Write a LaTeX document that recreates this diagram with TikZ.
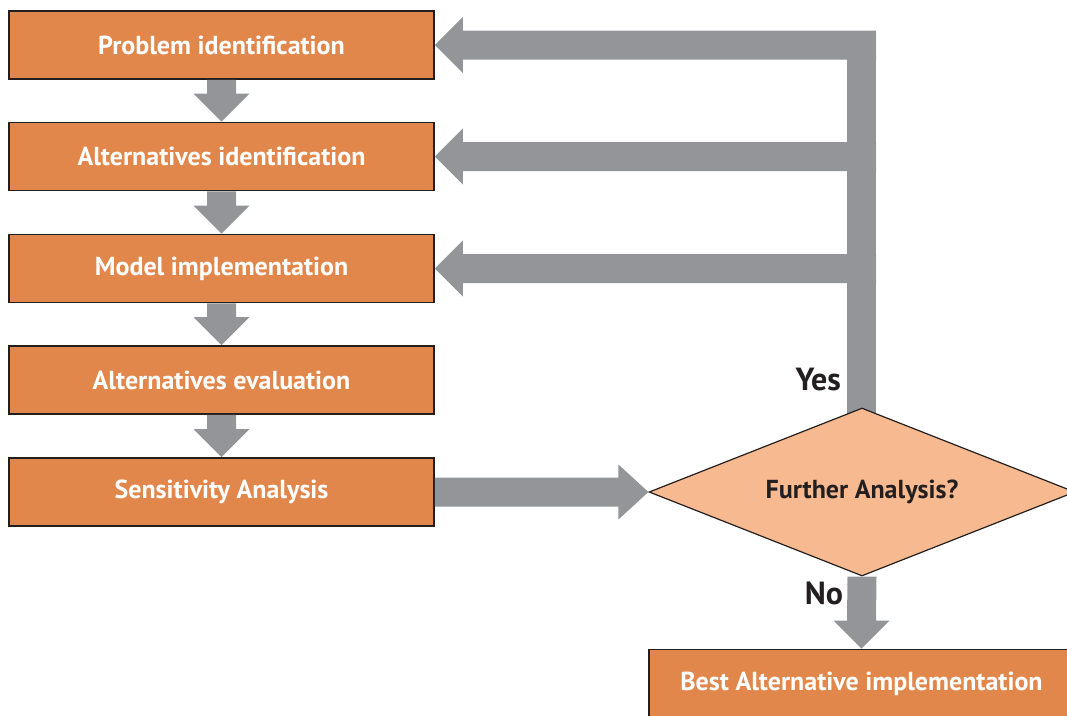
\documentclass[tikz,border=0pt]{standalone}
\usepackage{fontspec}
\setmainfont{PT Sans}
\usetikzlibrary{shapes.geometric,calc}

\definecolor{boxorange}{HTML}{E1874B}
\definecolor{decisionpeach}{HTML}{F7B98F}
\definecolor{flowgray}{HTML}{939598}
\definecolor{inkdark}{HTML}{231F20}

\tikzset{
  stepbox/.style={draw=inkdark, line width=1.6pt, fill=boxorange,
    minimum width=425pt, minimum height=68pt, inner sep=0pt,
    text=white, font=\fontsize{26}{30}\selectfont\bfseries},
  decision/.style={diamond, draw=inkdark, line width=1.2pt, fill=decisionpeach,
    minimum width=426pt, minimum height=168pt, inner sep=0pt,
    text=inkdark, font=\fontsize{26}{30}\selectfont\bfseries},
  answer/.style={text=inkdark, font=\fontsize{32}{36}\selectfont\bfseries, inner sep=0pt},
  fat/.style={fill=flowgray, draw=none}
}

% broad downward arrow from the bottom of #1 to the top of #2
\newcommand\fatdown[2]{%
  \fill[fat] ($(#1.south)+(-14.5,0)$) -- ($(#2.north)+(-14.5,-28)$)
    -- ($(#2.north)+(-28,-28)$) -- (#2.north) -- ($(#2.north)+(28,-28)$)
    -- ($(#2.north)+(14.5,-28)$) -- ($(#1.south)+(14.5,0)$) -- cycle;}
% broad leftward arrow from the trunk line #1 to the right side of #2
\newcommand\fatleft[2]{%
  \fill[fat] ($(#1 |- #2.east)+(14.5,-14.5)$) -- ($(#2.east)+(28,-14.5)$)
    -- ($(#2.east)+(28,-28)$) -- (#2.east) -- ($(#2.east)+(28,28)$)
    -- ($(#2.east)+(28,14.5)$) -- ($(#1 |- #2.east)+(14.5,14.5)$) -- cycle;}
% broad rightward arrow from the right side of #1 to the left corner of #2
\newcommand\fatright[2]{%
  \fill[fat] ($(#1.east)+(0,-14.5)$) -- ($(#2.west)+(-30,-14.5)$)
    -- ($(#2.west)+(-30,-27.5)$) -- (#2.west) -- ($(#2.west)+(-30,27.5)$)
    -- ($(#2.west)+(-30,14.5)$) -- ($(#1.east)+(0,14.5)$) -- cycle;}

\begin{document}
\begin{tikzpicture}[x=1pt, y=-1pt]
\useasboundingbox (0,0) rectangle (1067,715);
\clip (0,0) rectangle (1067,715);

% process steps
\node[stepbox] (b1) at (221.5,45)    {Problem identification};
\node[stepbox] (b2) at (221.5,156.5) {Alternatives identification};
\node[stepbox] (b3) at (221.5,268.5) {Model implementation};
\node[stepbox] (b4) at (221.5,380)   {Alternatives evaluation};
\node[stepbox] (b5) at (221.5,492)   {Sensitivity Analysis};
\node[stepbox] (b6) at (861.5,683.5) {Best Alternative implementation};

% feedback trunk, drawn first so the decision covers its foot
\coordinate (trunk) at (861.5,408);
\fill[fat] ($(trunk)+(-14.5,10)$) rectangle ($(trunk |- b1.east)+(14.5,-14.5)$);
\fatleft{trunk}{b1}
\fatleft{trunk}{b2}
\fatleft{trunk}{b3}

% decision (zero-width label keeps the diamond at its set size)
\node[decision] (d) at (862,492) {\makebox[0pt]{Further Analysis?}};

% flow arrows
\fatdown{b1}{b2}
\fatdown{b2}{b3}
\fatdown{b3}{b4}
\fatdown{b4}{b5}
\fatright{b5}{d}
\fatdown{d}{b6}

% branch labels
\node[answer, anchor=east] (yes) at (841,380) {Yes};
\node[answer] (no) at (824,593) {No};
\end{tikzpicture}
\end{document}
